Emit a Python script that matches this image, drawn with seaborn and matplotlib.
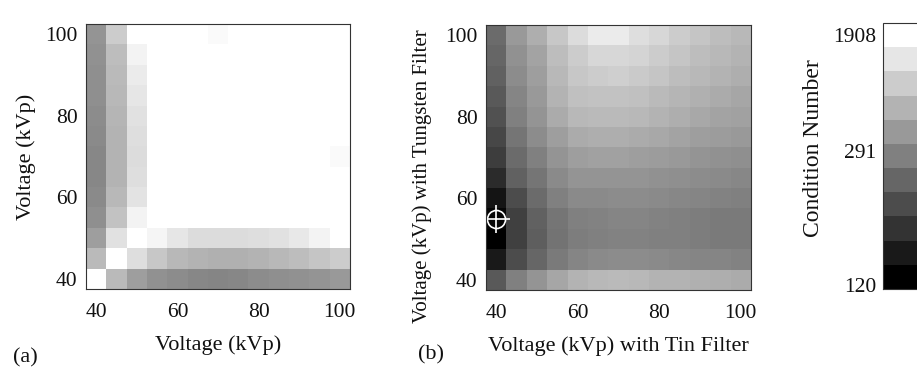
import numpy as np
import pandas as pd
import matplotlib
matplotlib.use("Agg")
import matplotlib.pyplot as plt
from matplotlib.colors import ListedColormap, Normalize
import matplotlib.colorbar as mcolorbar
import seaborn as sns

# ---- data -------------------------------------------------------------
# kVp grid (columns = x voltage, rows = y voltage, listed from 100 down to 40)
kvp_x = [40, 45, 50, 55, 60, 65, 70, 75, 80, 85, 90, 95, 100]
kvp_y = [100, 95, 90, 85, 80, 75, 70, 65, 60, 55, 50, 45, 40]

# position on the grey colour scale (0 = black / 120, 1 = white / 1908)
shade_a = [
    [0.58, 0.80, 1.00, 1.00, 1.00, 1.00, 0.98, 1.00, 1.00, 1.00, 1.00, 1.00, 1.00],
    [0.57, 0.74, 0.95, 1.00, 1.00, 1.00, 1.00, 1.00, 1.00, 1.00, 1.00, 1.00, 1.00],
    [0.56, 0.73, 0.92, 1.00, 1.00, 1.00, 1.00, 1.00, 1.00, 1.00, 1.00, 1.00, 1.00],
    [0.56, 0.72, 0.90, 1.00, 1.00, 1.00, 1.00, 1.00, 1.00, 1.00, 1.00, 1.00, 1.00],
    [0.55, 0.71, 0.88, 1.00, 1.00, 1.00, 1.00, 1.00, 1.00, 1.00, 1.00, 1.00, 1.00],
    [0.54, 0.70, 0.87, 1.00, 1.00, 1.00, 1.00, 1.00, 1.00, 1.00, 1.00, 1.00, 1.00],
    [0.53, 0.70, 0.86, 1.00, 1.00, 1.00, 1.00, 1.00, 1.00, 1.00, 1.00, 1.00, 0.98],
    [0.53, 0.70, 0.87, 1.00, 1.00, 1.00, 1.00, 1.00, 1.00, 1.00, 1.00, 1.00, 1.00],
    [0.54, 0.72, 0.89, 1.00, 1.00, 1.00, 1.00, 1.00, 1.00, 1.00, 1.00, 1.00, 1.00],
    [0.56, 0.76, 0.95, 1.00, 1.00, 1.00, 1.00, 1.00, 1.00, 1.00, 1.00, 1.00, 1.00],
    [0.62, 0.88, 1.00, 0.96, 0.90, 0.86, 0.86, 0.86, 0.87, 0.88, 0.91, 0.95, 1.00],
    [0.73, 1.00, 0.87, 0.78, 0.72, 0.70, 0.69, 0.69, 0.70, 0.72, 0.74, 0.77, 0.80],
    [1.00, 0.73, 0.62, 0.57, 0.55, 0.53, 0.52, 0.53, 0.55, 0.56, 0.57, 0.58, 0.60],
]

shade_b = [
    [0.42, 0.60, 0.68, 0.78, 0.86, 0.92, 0.92, 0.87, 0.84, 0.80, 0.77, 0.74, 0.72],
    [0.40, 0.57, 0.64, 0.74, 0.80, 0.84, 0.84, 0.83, 0.80, 0.77, 0.74, 0.72, 0.70],
    [0.38, 0.55, 0.62, 0.72, 0.78, 0.80, 0.81, 0.79, 0.77, 0.74, 0.72, 0.70, 0.68],
    [0.35, 0.52, 0.60, 0.70, 0.75, 0.76, 0.76, 0.75, 0.73, 0.71, 0.69, 0.67, 0.65],
    [0.32, 0.50, 0.58, 0.67, 0.72, 0.73, 0.73, 0.72, 0.70, 0.68, 0.66, 0.64, 0.63],
    [0.28, 0.46, 0.55, 0.62, 0.67, 0.68, 0.68, 0.67, 0.66, 0.64, 0.62, 0.61, 0.60],
    [0.24, 0.42, 0.50, 0.58, 0.62, 0.63, 0.63, 0.62, 0.61, 0.60, 0.58, 0.57, 0.56],
    [0.17, 0.38, 0.46, 0.54, 0.58, 0.58, 0.58, 0.58, 0.57, 0.56, 0.55, 0.54, 0.53],
    [0.08, 0.30, 0.42, 0.50, 0.54, 0.54, 0.55, 0.55, 0.54, 0.53, 0.52, 0.51, 0.50],
    [0.02, 0.25, 0.38, 0.46, 0.50, 0.51, 0.52, 0.52, 0.51, 0.50, 0.49, 0.48, 0.48],
    [0.00, 0.25, 0.37, 0.45, 0.49, 0.50, 0.51, 0.51, 0.50, 0.50, 0.49, 0.48, 0.48],
    [0.10, 0.30, 0.40, 0.48, 0.52, 0.54, 0.55, 0.55, 0.54, 0.53, 0.52, 0.52, 0.51],
    [0.35, 0.50, 0.58, 0.65, 0.70, 0.72, 0.73, 0.72, 0.70, 0.70, 0.69, 0.68, 0.67],
]

tick_kvp = [40, 60, 80, 100]
cbar_tick_labels = ["120", "291", "1908"]
cbar_tick_pos = [0.015, 0.52, 0.955]
n_levels = 11
optimum_b = (40, 55)  # marked point in panel (b)

# ---- style ------------------------------------------------------------
sns.set_theme(style="white")
plt.rcParams["font.family"] = ["Liberation Serif", "DejaVu Serif"]
plt.rcParams["axes.edgecolor"] = "#333333"
plt.rcParams["axes.linewidth"] = 0.8
FS_TICK = 15.5
FS_LAB = 16

fig = plt.figure(figsize=(9.17, 3.67), dpi=100)
W, H = 917.0, 367.0

def px_axes(l, t, r, b):
    return fig.add_axes([l / W, 1 - b / H, (r - l) / W, (b - t) / H])

ax_a = px_axes(86, 24, 350, 289)
ax_b = px_axes(486, 25, 751, 290)
ax_c = px_axes(883, 23, 930, 289)

def xpos(v):
    return kvp_x.index(v) + 0.5

def ypos(v):
    return kvp_y.index(v) + 0.5

def draw(ax, shade):
    df = pd.DataFrame(shade, index=kvp_y, columns=kvp_x)
    sns.heatmap(df, ax=ax, cmap="gray", vmin=0, vmax=1, cbar=False,
                xticklabels=False, yticklabels=False)
    ax.set_xticks([xpos(v) for v in tick_kvp])
    ax.set_xticklabels([str(v) for v in tick_kvp])
    ax.set_yticks([ypos(v) for v in tick_kvp])
    ax.set_yticklabels([str(v) for v in tick_kvp], rotation=0)
    for s in ax.spines.values():
        s.set_visible(True)
        s.set_color("#333333")
        s.set_linewidth(0.8)
    ax.tick_params(axis="both", which="both", direction="in", length=3,
                   width=0.8, color="#333333", top=True, right=True,
                   bottom=True, left=True, labelsize=FS_TICK,
                   labelcolor="#111111")
    ax.tick_params(axis="x", pad=10)
    ax.tick_params(axis="y", pad=6)

draw(ax_a, shade_a)
draw(ax_b, shade_b)

ax_a.set_xlabel("Voltage (kVp)", fontsize=FS_LAB, color="#111111")
ax_a.set_ylabel("Voltage (kVp)", fontsize=FS_LAB, color="#111111")
ax_a.xaxis.set_label_coords(0.5, -0.175)
ax_a.yaxis.set_label_coords(-0.19, 0.5)

ax_b.set_xlabel("Voltage (kVp) with Tin Filter", fontsize=FS_LAB, color="#111111")
ax_b.set_ylabel("Voltage (kVp) with Tungsten Filter", fontsize=FS_LAB - 1,
                color="#111111")
ax_b.xaxis.set_label_coords(0.5, -0.175)
ax_b.yaxis.set_label_coords(-0.205, 0.43)

# optimum marker
ox, oy = xpos(optimum_b[0]), ypos(optimum_b[1])
ax_b.plot([ox], [oy], marker="o", markersize=13, markerfacecolor="none",
          markeredgecolor="white", markeredgewidth=1.2)
ax_b.plot([ox], [oy], marker="+", markersize=20, color="white",
          markeredgewidth=1.2)

# discrete colour bar
levels = np.linspace(0, 1, n_levels)
cmap_d = ListedColormap([plt.cm.gray(v) for v in levels])
cb = mcolorbar.ColorbarBase(ax_c, cmap=cmap_d, norm=Normalize(0, 1),
                            orientation="vertical")
cb.outline.set_edgecolor("#333333")
cb.outline.set_linewidth(0.8)
ax_c.yaxis.set_ticks_position("left")
ax_c.set_yticks(cbar_tick_pos)
ax_c.set_yticklabels(cbar_tick_labels)
ax_c.tick_params(axis="y", direction="in", length=3, width=0.8,
                 color="#555555", labelsize=FS_TICK, pad=5, labelcolor="#111111")
ax_c.yaxis.set_label_position("left")
ax_c.set_ylabel("Condition Number", fontsize=FS_LAB + 1, color="#111111")
ax_c.yaxis.set_label_coords(-1.26, 0.53)

fig.text(13 / W, 1 - 358 / H, "(a)", fontsize=FS_LAB, color="#111111",
         va="center", ha="left")
fig.text(418 / W, 1 - 355 / H, "(b)", fontsize=FS_LAB, color="#111111",
         va="center", ha="left")

fig.savefig("out.png", dpi=100)
